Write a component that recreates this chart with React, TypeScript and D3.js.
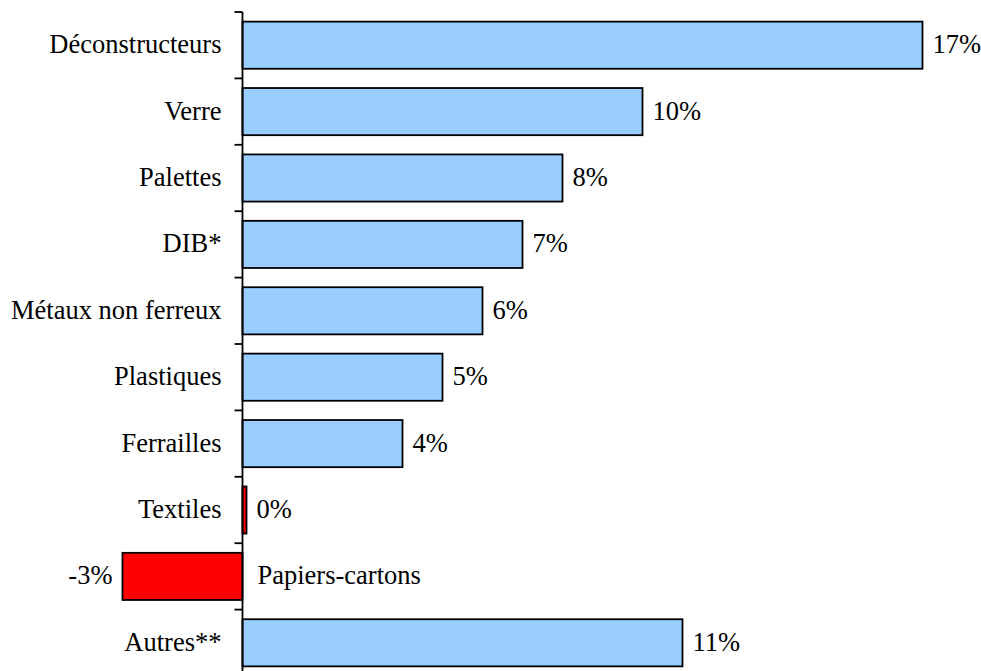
import React, { useEffect, useRef } from 'react';
import * as d3 from 'd3';

const categories = [
  'Déconstructeurs', 'Verre', 'Palettes', 'DIB*', 'Métaux non ferreux',
  'Plastiques', 'Ferrailles', 'Textiles', 'Papiers-cartons', 'Autres**',
];
const values = [17, 10, 8, 7, 6, 5, 4, 0.1, -3, 11];
const valueLabels = ['17%', '10%', '8%', '7%', '6%', '5%', '4%', '0%', '-3%', '11%'];

interface Row {
  cat: string;
  value: number;
  label: string;
}

const App: React.FC = () => {
  const svgRef = useRef<SVGSVGElement | null>(null);

  useEffect(() => {
    if (!svgRef.current) return;
    const width = 981;
    const height = 671;
    const svg = d3.select(svgRef.current);
    svg.selectAll('*').remove();
    svg.attr('width', width).attr('height', height);

    const rows: Row[] = categories.map((c, i) => ({ cat: c, value: values[i], label: valueLabels[i] }));

    const x = d3.scaleLinear().domain([-3, 17]).range([122.5, 922.5]);
    const y = d3.scaleBand<string>()
      .domain(categories)
      .range([12, 676])
      .paddingInner(0.29)
      .paddingOuter(0.145);

    const x0 = x(0);
    const font = 'Liberation Serif';

    // bars
    svg.append('g')
      .selectAll('rect')
      .data(rows)
      .enter()
      .append('rect')
      .attr('x', d => Math.min(x(d.value), x0))
      .attr('y', d => y(d.cat)!)
      .attr('width', d => Math.abs(x(d.value) - x0))
      .attr('height', y.bandwidth())
      .attr('fill', d => (d.value < 1 ? '#ff0000' : '#99ccff'))
      .attr('stroke', '#000')
      .attr('stroke-width', 1.8);

    // axis
    const step = y.step();
    const axis = svg.append('g').attr('stroke', '#000').attr('stroke-width', 1.8);
    axis.append('line')
      .attr('x1', x0).attr('x2', x0)
      .attr('y1', 12).attr('y2', 676);
    axis.selectAll('line.tick')
      .data(d3.range(categories.length + 1))
      .enter()
      .append('line')
      .attr('class', 'tick')
      .attr('x1', x0 - 8).attr('x2', x0)
      .attr('y1', i => 12 + i * step)
      .attr('y2', i => 12 + i * step);

    // category labels
    svg.append('g')
      .attr('font-family', font)
      .attr('font-size', 26.5)
      .selectAll('text')
      .data(rows)
      .enter()
      .append('text')
      .attr('x', d => (d.value < 0 ? x0 + 15 : x0 - 21))
      .attr('y', d => y(d.cat)! + y.bandwidth() / 2)
      .attr('dy', '0.3em')
      .attr('text-anchor', d => (d.value < 0 ? 'start' : 'end'))
      .attr('fill', '#000')
      .text(d => d.cat);

    // value labels
    svg.append('g')
      .attr('font-family', font)
      .attr('font-size', 26.5)
      .selectAll('text')
      .data(rows)
      .enter()
      .append('text')
      .attr('x', d => (d.value < 0 ? x(d.value) - 10 : x(d.value) + 10))
      .attr('y', d => y(d.cat)! + y.bandwidth() / 2)
      .attr('dy', '0.3em')
      .attr('text-anchor', d => (d.value < 0 ? 'end' : 'start'))
      .attr('fill', '#000')
      .text(d => d.label);
  }, []);

  return (
    <div style={{ position: 'fixed', left: 0, top: 0, width: 981, height: 671, background: '#fff' }}>
      <svg ref={svgRef} style={{ display: 'block' }} />
    </div>
  );
};

export default App;
